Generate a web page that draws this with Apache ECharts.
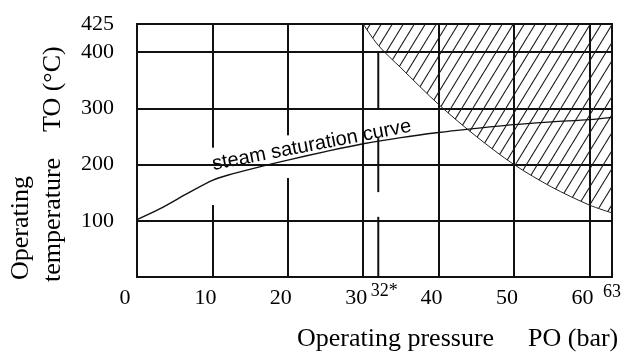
<!DOCTYPE html>
<html><head><meta charset="utf-8">
<script src="https://cdn.jsdelivr.net/npm/echarts@6/dist/echarts.min.js"></script>
<style>html,body{margin:0;padding:0;background:#fff}#c{width:625px;height:353px}</style>
</head><body><div id="c"></div>
<script>
// ---- data ----
const pressure        = [0, 3, 7, 10, 12, 16, 20, 25, 30, 35, 40, 44, 50, 55, 60, 63];
const saturationTemp  = [102, 121, 151, 172, 181, 195, 208, 223, 237, 248, 257, 263, 271, 276, 280, 284];
const limitPressure   = [30, 32, 35, 40, 45, 50, 55, 60, 63];
const limitTemp       = [450, 412, 372, 307, 250, 200, 160, 128, 114];
const markedPressure  = 32;
const markedPressureTop = 400;
const xMax = 63;
const yMax = 450;
const yTickValues = [100, 200, 300, 400, 450];
const yTickLabels = ['100', '200', '300', '400', '425'];
const curveLabel = 'steam saturation curve';
const curveLabelAt = [10.0, 200];

// ---- styling / layout ----
const SERIF = '"Liberation Serif", "Times New Roman", serif';
const SANS = '"Liberation Sans", Arial, sans-serif';
const INK = '#111';
// gaps in the grid lines, as in the reference drawing
const gridGaps = [
  ['v', 10, 128, 230],
  ['v', 20, 176, 252],
  ['h', 200, 9.3, 25.2],
  ['v', 32, 107, 151],
  ['v', 32, 247, 297]
];

function hatchTile() {
  const s = 11, h = 18;
  const c = document.createElement('canvas');
  c.width = s; c.height = h;
  const g = c.getContext('2d');
  g.strokeStyle = '#1a1a1a';
  g.lineWidth = 1.1;
  for (const o of [-s, 0, s]) {
    g.beginPath(); g.moveTo(o, h); g.lineTo(o + s, 0); g.stroke();
  }
  return c;
}

const chart = echarts.init(document.getElementById('c'), null, {renderer: 'canvas'});
chart.setOption({
  animation: false,
  backgroundColor: '#fff',
  grid: {left: 137, top: 24, right: 13, bottom: 76, show: true, borderColor: INK, borderWidth: 2,
         containLabel: false, outerBoundsMode: 'none'},
  xAxis: {
    type: 'value', min: 0, max: xMax, interval: 10,
    axisLine: {show: true, lineStyle: {color: INK, width: 2}},
    axisTick: {show: false},
    splitLine: {show: true, lineStyle: {color: INK, width: 2}},
    axisLabel: {
      margin: 6, color: '#000',
      formatter: function (v) {
        if (v === xMax) return '{s|' + v + '}';
        if (v === 0) return '{a|0}';
        return '{n|' + v + '}';
      },
      rich: {
        a: {fontFamily: SERIF, fontSize: 22, color: '#000', padding: [4, 24, 0, 0]},
        n: {fontFamily: SERIF, fontSize: 22, color: '#000', padding: [4, 14, 0, 0]},
        s: {fontFamily: SERIF, fontSize: 18, color: '#000', padding: [0, 0, 0, 0]}
      }
    }
  },
  yAxis: {
    type: 'value', min: 0, max: yMax, interval: 50,
    axisLine: {show: true, lineStyle: {color: INK, width: 2}},
    axisTick: {show: false},
    splitLine: {show: false},
    axisLabel: {
      margin: 23, color: '#000', fontFamily: SERIF, fontSize: 22,
      formatter: function (v) {
        const i = yTickValues.indexOf(v);
        return i >= 0 ? yTickLabels[i] : '';
      }
    }
  },
  series: [
    {
      type: 'line', name: 'limit', z: 5, symbol: 'none', smooth: 0.3,
      data: limitPressure.map((p, i) => [p, limitTemp[i]]),
      lineStyle: {color: '#222', width: 1},
      areaStyle: {origin: 'end', opacity: 1, color: {image: hatchTile(), repeat: 'repeat'}}
    },
    {
      type: 'line', name: 'saturation', z: 6, symbol: 'none', smooth: 0.3,
      data: pressure.map((p, i) => [p, saturationTemp[i]]),
      lineStyle: {color: INK, width: 1.4}
    },
    {
      type: 'line', name: 'marked', z: 0, symbol: 'none',
      data: [[markedPressure, 0], [markedPressure, markedPressureTop]],
      lineStyle: {color: INK, width: 2}
    },
    {
      type: 'line', name: 'hgrid', z: 0, symbol: 'none', data: [],
      markLine: {
        silent: true, symbol: 'none', label: {show: false},
        lineStyle: {color: INK, width: 2, type: 'solid'},
        data: yTickValues.map(v => ({yAxis: v}))
      }
    }
  ]
});

const px = p => chart.convertToPixel({gridIndex: 0}, p);
const graphics = [];
gridGaps.forEach(g => {
  if (g[0] === 'v') {
    const a = px([g[1], g[3]]), b = px([g[1], g[2]]);
    graphics.push({type: 'rect', z: 1, silent: true,
      shape: {x: a[0] - 2.5, y: a[1], width: 5, height: b[1] - a[1]}, style: {fill: '#fff'}});
  } else {
    const a = px([g[2], g[1]]), b = px([g[3], g[1]]);
    graphics.push({type: 'rect', z: 1, silent: true,
      shape: {x: a[0], y: a[1] - 2.5, width: b[0] - a[0], height: 5}, style: {fill: '#fff'}});
  }
});
const lp = px(curveLabelAt);
graphics.push({type: 'text', z: 3, x: lp[0], y: lp[1], rotation: 11 * Math.PI / 180,
  style: {text: curveLabel, font: '20px ' + SANS, fill: '#000',
          align: 'left', verticalAlign: 'middle', textAlign: 'left', textVerticalAlign: 'middle'}});
const mp = px([markedPressure, 0]);
graphics.push({type: 'text', z: 3, x: mp[0] + 6, y: mp[1] + 14,
  style: {text: markedPressure + '*', font: '18px ' + SERIF, fill: '#000',
          align: 'center', verticalAlign: 'middle', textAlign: 'center', textVerticalAlign: 'middle'}});
// axis titles
const T = (text, x, y, rot) => ({type: 'text', z: 3, x: x, y: y, rotation: rot || 0,
  style: {text: text, font: '26px ' + SERIF, fill: '#000',
          align: 'left', verticalAlign: 'middle', textAlign: 'left', textVerticalAlign: 'middle'}});
graphics.push(T('Operating', 21, 280, Math.PI / 2));
graphics.push(T('temperature', 53, 282, Math.PI / 2));
graphics.push(T('TO (°C)', 53, 132, Math.PI / 2));
graphics.push(T('Operating pressure', 297, 339));
graphics.push(T('PO (bar)', 528, 339));
chart.setOption({graphic: {elements: graphics}});
</script>
</body></html>
